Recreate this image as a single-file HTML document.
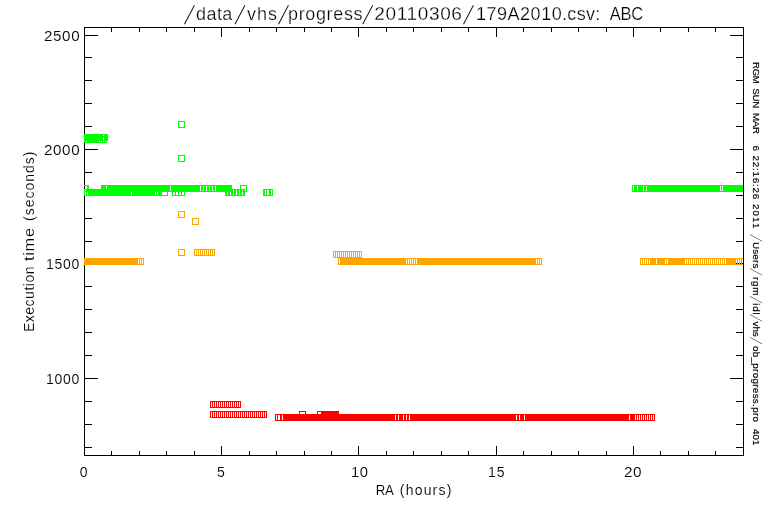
<!DOCTYPE html>
<html><head><meta charset="utf-8"><title>ob_progress</title>
<style>
html,body{margin:0;padding:0;background:#fff;overflow:hidden}
svg{display:block}
text{font-family:'Liberation Sans',sans-serif;fill:#000;white-space:pre;stroke:#fff;paint-order:fill stroke;stroke-width:.1px}
.t{stroke-width:.25px}
.r{stroke:#000;stroke-width:.2px}
.s{stroke-width:0}
</style></head>
<body>
<svg width="768" height="512" viewBox="0 0 768 512">
<rect width="768" height="512" fill="#fff"/>
<g shape-rendering="crispEdges">
<rect x="84" y="27" width="660" height="1" fill="#000"/>
<rect x="84" y="455" width="660" height="1" fill="#000"/>
<rect x="84" y="27" width="1" height="429" fill="#000"/>
<rect x="743" y="27" width="1" height="429" fill="#000"/>
<rect x="111" y="451" width="1" height="4" fill="#000"/>
<rect x="111" y="28" width="1" height="4" fill="#000"/>
<rect x="139" y="451" width="1" height="4" fill="#000"/>
<rect x="139" y="28" width="1" height="4" fill="#000"/>
<rect x="166" y="451" width="1" height="4" fill="#000"/>
<rect x="166" y="28" width="1" height="4" fill="#000"/>
<rect x="194" y="451" width="1" height="4" fill="#000"/>
<rect x="194" y="28" width="1" height="4" fill="#000"/>
<rect x="221" y="446" width="1" height="9" fill="#000"/>
<rect x="221" y="28" width="1" height="9" fill="#000"/>
<rect x="249" y="451" width="1" height="4" fill="#000"/>
<rect x="249" y="28" width="1" height="4" fill="#000"/>
<rect x="276" y="451" width="1" height="4" fill="#000"/>
<rect x="276" y="28" width="1" height="4" fill="#000"/>
<rect x="304" y="451" width="1" height="4" fill="#000"/>
<rect x="304" y="28" width="1" height="4" fill="#000"/>
<rect x="331" y="451" width="1" height="4" fill="#000"/>
<rect x="331" y="28" width="1" height="4" fill="#000"/>
<rect x="358" y="446" width="1" height="9" fill="#000"/>
<rect x="358" y="28" width="1" height="9" fill="#000"/>
<rect x="386" y="451" width="1" height="4" fill="#000"/>
<rect x="386" y="28" width="1" height="4" fill="#000"/>
<rect x="413" y="451" width="1" height="4" fill="#000"/>
<rect x="413" y="28" width="1" height="4" fill="#000"/>
<rect x="441" y="451" width="1" height="4" fill="#000"/>
<rect x="441" y="28" width="1" height="4" fill="#000"/>
<rect x="468" y="451" width="1" height="4" fill="#000"/>
<rect x="468" y="28" width="1" height="4" fill="#000"/>
<rect x="496" y="446" width="1" height="9" fill="#000"/>
<rect x="496" y="28" width="1" height="9" fill="#000"/>
<rect x="523" y="451" width="1" height="4" fill="#000"/>
<rect x="523" y="28" width="1" height="4" fill="#000"/>
<rect x="551" y="451" width="1" height="4" fill="#000"/>
<rect x="551" y="28" width="1" height="4" fill="#000"/>
<rect x="578" y="451" width="1" height="4" fill="#000"/>
<rect x="578" y="28" width="1" height="4" fill="#000"/>
<rect x="606" y="451" width="1" height="4" fill="#000"/>
<rect x="606" y="28" width="1" height="4" fill="#000"/>
<rect x="633" y="446" width="1" height="9" fill="#000"/>
<rect x="633" y="28" width="1" height="9" fill="#000"/>
<rect x="660" y="451" width="1" height="4" fill="#000"/>
<rect x="660" y="28" width="1" height="4" fill="#000"/>
<rect x="688" y="451" width="1" height="4" fill="#000"/>
<rect x="688" y="28" width="1" height="4" fill="#000"/>
<rect x="715" y="451" width="1" height="4" fill="#000"/>
<rect x="715" y="28" width="1" height="4" fill="#000"/>
<rect x="85" y="447" width="7" height="1" fill="#000"/>
<rect x="736" y="447" width="7" height="1" fill="#000"/>
<rect x="85" y="424" width="7" height="1" fill="#000"/>
<rect x="736" y="424" width="7" height="1" fill="#000"/>
<rect x="85" y="401" width="7" height="1" fill="#000"/>
<rect x="736" y="401" width="7" height="1" fill="#000"/>
<rect x="85" y="378" width="13" height="1" fill="#000"/>
<rect x="730" y="378" width="13" height="1" fill="#000"/>
<rect x="85" y="355" width="7" height="1" fill="#000"/>
<rect x="736" y="355" width="7" height="1" fill="#000"/>
<rect x="85" y="332" width="7" height="1" fill="#000"/>
<rect x="736" y="332" width="7" height="1" fill="#000"/>
<rect x="85" y="309" width="7" height="1" fill="#000"/>
<rect x="736" y="309" width="7" height="1" fill="#000"/>
<rect x="85" y="286" width="7" height="1" fill="#000"/>
<rect x="736" y="286" width="7" height="1" fill="#000"/>
<rect x="85" y="263" width="13" height="1" fill="#000"/>
<rect x="730" y="263" width="13" height="1" fill="#000"/>
<rect x="85" y="241" width="7" height="1" fill="#000"/>
<rect x="736" y="241" width="7" height="1" fill="#000"/>
<rect x="85" y="218" width="7" height="1" fill="#000"/>
<rect x="736" y="218" width="7" height="1" fill="#000"/>
<rect x="85" y="195" width="7" height="1" fill="#000"/>
<rect x="736" y="195" width="7" height="1" fill="#000"/>
<rect x="85" y="172" width="7" height="1" fill="#000"/>
<rect x="736" y="172" width="7" height="1" fill="#000"/>
<rect x="85" y="149" width="13" height="1" fill="#000"/>
<rect x="730" y="149" width="13" height="1" fill="#000"/>
<rect x="85" y="126" width="7" height="1" fill="#000"/>
<rect x="736" y="126" width="7" height="1" fill="#000"/>
<rect x="85" y="103" width="7" height="1" fill="#000"/>
<rect x="736" y="103" width="7" height="1" fill="#000"/>
<rect x="85" y="80" width="7" height="1" fill="#000"/>
<rect x="736" y="80" width="7" height="1" fill="#000"/>
<rect x="85" y="57" width="7" height="1" fill="#000"/>
<rect x="736" y="57" width="7" height="1" fill="#000"/>
<rect x="85" y="35" width="13" height="1" fill="#000"/>
<rect x="730" y="35" width="13" height="1" fill="#000"/>
<rect x="84" y="134" width="24" height="7" fill="#00ff00"/>
<rect x="84" y="141" width="23" height="2" fill="#00ff00"/>
<rect x="86" y="141" width="1" height="1" fill="#fff"/>
<rect x="99" y="141" width="1" height="1" fill="#fff"/>
<rect x="101" y="141" width="1" height="1" fill="#fff"/>
<rect x="103" y="141" width="1" height="1" fill="#fff"/>
<rect x="105" y="141" width="1" height="1" fill="#fff"/>
<rect x="103" y="135" width="1" height="1" fill="#fff"/>
<rect x="103" y="137" width="1" height="3" fill="#fff"/>
<path d="M178.5 121.5h6v6h-6z" fill="none" stroke="#00ff00"/>
<path d="M178.5 155.5h6v6h-6z" fill="none" stroke="#00ff00"/>
<rect x="84" y="185" width="5" height="1" fill="#00ff00"/>
<rect x="87" y="185" width="2" height="7" fill="#00ff00"/>
<rect x="101" y="185" width="131" height="7" fill="#00ff00"/>
<rect x="106" y="186" width="1" height="3" fill="#fff"/>
<rect x="170" y="186" width="1" height="5" fill="#fff"/>
<rect x="200" y="186" width="1" height="5" fill="#fff"/>
<rect x="203" y="186" width="1" height="5" fill="#fff"/>
<rect x="206" y="186" width="1" height="5" fill="#fff"/>
<rect x="209" y="186" width="1" height="5" fill="#fff"/>
<rect x="212" y="186" width="1" height="5" fill="#fff"/>
<rect x="215" y="186" width="1" height="5" fill="#fff"/>
<rect x="84" y="189" width="84" height="7" fill="#00ff00"/>
<rect x="85" y="190" width="1" height="1" fill="#fff"/>
<rect x="85" y="192" width="1" height="3" fill="#fff"/>
<rect x="87" y="192" width="1" height="3" fill="#fff"/>
<rect x="131" y="192" width="1" height="3" fill="#fff"/>
<rect x="155" y="192" width="1" height="3" fill="#fff"/>
<rect x="157" y="192" width="1" height="3" fill="#fff"/>
<rect x="162" y="192" width="5" height="3" fill="#fff"/>
<rect x="172" y="189" width="13" height="7" fill="#00ff00"/>
<rect x="173" y="192" width="2" height="3" fill="#fff"/>
<rect x="176" y="192" width="2" height="3" fill="#fff"/>
<rect x="179" y="192" width="2" height="3" fill="#fff"/>
<rect x="182" y="192" width="2" height="3" fill="#fff"/>
<rect x="225" y="189" width="20" height="7" fill="#00ff00"/>
<rect x="227" y="192" width="1" height="3" fill="#fff"/>
<rect x="230" y="192" width="1" height="3" fill="#fff"/>
<rect x="233" y="190" width="1" height="5" fill="#fff"/>
<rect x="236" y="190" width="1" height="5" fill="#fff"/>
<rect x="239" y="190" width="1" height="5" fill="#fff"/>
<rect x="242" y="190" width="1" height="1" fill="#fff"/>
<rect x="242" y="192" width="1" height="3" fill="#fff"/>
<path d="M240.5 185.5h6v6h-6z" fill="none" stroke="#00ff00"/>
<rect x="263" y="189" width="10" height="7" fill="#00ff00"/>
<rect x="265" y="190" width="1" height="5" fill="#fff"/>
<rect x="267" y="190" width="2" height="5" fill="#fff"/>
<rect x="271" y="190" width="1" height="5" fill="#fff"/>
<rect x="632" y="185" width="111" height="7" fill="#00ff00"/>
<rect x="633" y="186" width="1" height="5" fill="#fff"/>
<rect x="637" y="186" width="1" height="5" fill="#fff"/>
<rect x="643" y="186" width="1" height="5" fill="#fff"/>
<rect x="646" y="186" width="1" height="5" fill="#fff"/>
<rect x="720" y="186" width="1" height="5" fill="#fff"/>
<rect x="722" y="186" width="1" height="5" fill="#fff"/>
<path d="M178.5 211.5h6v6h-6z" fill="none" stroke="#ffa500"/>
<path d="M192.5 218.5h6v6h-6z" fill="none" stroke="#ffa500"/>
<path d="M178.5 249.5h6v6h-6z" fill="none" stroke="#ffa500"/>
<rect x="194" y="249" width="21" height="7" fill="#ffa500"/>
<rect x="195" y="250" width="1" height="5" fill="#fff"/>
<rect x="197" y="250" width="1" height="5" fill="#fff"/>
<rect x="199" y="250" width="1" height="5" fill="#fff"/>
<rect x="201" y="250" width="1" height="5" fill="#fff"/>
<rect x="203" y="250" width="1" height="5" fill="#fff"/>
<rect x="205" y="250" width="1" height="5" fill="#fff"/>
<rect x="207" y="250" width="1" height="5" fill="#fff"/>
<rect x="209" y="250" width="1" height="5" fill="#fff"/>
<rect x="211" y="250" width="1" height="5" fill="#fff"/>
<rect x="213" y="250" width="1" height="5" fill="#fff"/>
<rect x="84" y="258" width="60" height="7" fill="#ffa500"/>
<rect x="138" y="259" width="1" height="5" fill="#fff"/>
<rect x="140" y="259" width="1" height="5" fill="#fff"/>
<rect x="142" y="259" width="1" height="5" fill="#fff"/>
<rect x="333" y="251" width="29" height="7" fill="#ffa500"/>
<rect x="334" y="252" width="1" height="5" fill="#fff"/>
<rect x="336" y="252" width="1" height="5" fill="#fff"/>
<rect x="338" y="252" width="1" height="5" fill="#fff"/>
<rect x="340" y="252" width="1" height="5" fill="#fff"/>
<rect x="342" y="252" width="1" height="5" fill="#fff"/>
<rect x="344" y="252" width="1" height="5" fill="#fff"/>
<rect x="346" y="252" width="1" height="5" fill="#fff"/>
<rect x="348" y="252" width="1" height="5" fill="#fff"/>
<rect x="350" y="252" width="1" height="5" fill="#fff"/>
<rect x="352" y="252" width="1" height="5" fill="#fff"/>
<rect x="354" y="252" width="1" height="5" fill="#fff"/>
<rect x="356" y="252" width="1" height="5" fill="#fff"/>
<rect x="358" y="252" width="1" height="5" fill="#fff"/>
<rect x="360" y="252" width="1" height="5" fill="#fff"/>
<rect x="338" y="258" width="204" height="7" fill="#ffa500"/>
<rect x="339" y="259" width="1" height="5" fill="#fff"/>
<rect x="406" y="259" width="1" height="5" fill="#fff"/>
<rect x="408" y="259" width="1" height="5" fill="#fff"/>
<rect x="410" y="259" width="1" height="5" fill="#fff"/>
<rect x="412" y="259" width="1" height="5" fill="#fff"/>
<rect x="414" y="259" width="1" height="5" fill="#fff"/>
<rect x="416" y="259" width="1" height="5" fill="#fff"/>
<rect x="536" y="259" width="1" height="5" fill="#fff"/>
<rect x="538" y="259" width="1" height="5" fill="#fff"/>
<rect x="540" y="259" width="1" height="5" fill="#fff"/>
<rect x="640" y="258" width="103" height="7" fill="#ffa500"/>
<rect x="641" y="259" width="1" height="5" fill="#fff"/>
<rect x="643" y="259" width="1" height="5" fill="#fff"/>
<rect x="645" y="259" width="1" height="5" fill="#fff"/>
<rect x="647" y="259" width="1" height="5" fill="#fff"/>
<rect x="649" y="259" width="1" height="5" fill="#fff"/>
<rect x="656" y="259" width="1" height="5" fill="#fff"/>
<rect x="665" y="259" width="1" height="5" fill="#fff"/>
<rect x="667" y="259" width="1" height="5" fill="#fff"/>
<rect x="685" y="259" width="1" height="5" fill="#fff"/>
<rect x="687" y="259" width="1" height="5" fill="#fff"/>
<rect x="689" y="259" width="1" height="5" fill="#fff"/>
<rect x="691" y="259" width="1" height="5" fill="#fff"/>
<rect x="693" y="259" width="1" height="5" fill="#fff"/>
<rect x="695" y="259" width="1" height="5" fill="#fff"/>
<rect x="697" y="259" width="1" height="5" fill="#fff"/>
<rect x="699" y="259" width="1" height="5" fill="#fff"/>
<rect x="701" y="259" width="1" height="5" fill="#fff"/>
<rect x="703" y="259" width="1" height="5" fill="#fff"/>
<rect x="705" y="259" width="1" height="5" fill="#fff"/>
<rect x="707" y="259" width="1" height="5" fill="#fff"/>
<rect x="709" y="259" width="1" height="5" fill="#fff"/>
<rect x="711" y="259" width="1" height="5" fill="#fff"/>
<rect x="713" y="259" width="1" height="5" fill="#fff"/>
<rect x="715" y="259" width="1" height="5" fill="#fff"/>
<rect x="717" y="259" width="1" height="5" fill="#fff"/>
<rect x="719" y="259" width="1" height="5" fill="#fff"/>
<rect x="721" y="259" width="1" height="5" fill="#fff"/>
<rect x="723" y="259" width="1" height="5" fill="#fff"/>
<rect x="725" y="259" width="1" height="5" fill="#fff"/>
<rect x="736" y="259" width="1" height="5" fill="#fff"/>
<rect x="738" y="259" width="1" height="5" fill="#fff"/>
<rect x="740" y="259" width="1" height="5" fill="#fff"/>
<rect x="742" y="259" width="1" height="5" fill="#fff"/>
<rect x="736" y="263" width="1" height="1" fill="#000"/>
<rect x="738" y="263" width="1" height="1" fill="#000"/>
<rect x="740" y="263" width="1" height="1" fill="#000"/>
<rect x="742" y="263" width="1" height="1" fill="#000"/>
<rect x="210" y="401" width="31" height="7" fill="#ff0000"/>
<rect x="211" y="402" width="1" height="5" fill="#fff"/>
<rect x="213" y="402" width="1" height="5" fill="#fff"/>
<rect x="215" y="402" width="1" height="5" fill="#fff"/>
<rect x="217" y="402" width="1" height="5" fill="#fff"/>
<rect x="219" y="402" width="1" height="5" fill="#fff"/>
<rect x="221" y="402" width="1" height="5" fill="#fff"/>
<rect x="223" y="402" width="1" height="5" fill="#fff"/>
<rect x="225" y="402" width="1" height="5" fill="#fff"/>
<rect x="227" y="402" width="1" height="5" fill="#fff"/>
<rect x="229" y="402" width="1" height="5" fill="#fff"/>
<rect x="231" y="402" width="1" height="5" fill="#fff"/>
<rect x="233" y="402" width="1" height="5" fill="#fff"/>
<rect x="235" y="402" width="1" height="5" fill="#fff"/>
<rect x="237" y="402" width="1" height="5" fill="#fff"/>
<rect x="239" y="402" width="1" height="5" fill="#fff"/>
<rect x="210" y="411" width="57" height="7" fill="#ff0000"/>
<rect x="211" y="412" width="1" height="5" fill="#fff"/>
<rect x="213" y="412" width="1" height="5" fill="#fff"/>
<rect x="215" y="412" width="1" height="5" fill="#fff"/>
<rect x="217" y="412" width="1" height="5" fill="#fff"/>
<rect x="219" y="412" width="1" height="5" fill="#fff"/>
<rect x="221" y="412" width="1" height="5" fill="#fff"/>
<rect x="223" y="412" width="1" height="5" fill="#fff"/>
<rect x="225" y="412" width="1" height="5" fill="#fff"/>
<rect x="227" y="412" width="1" height="5" fill="#fff"/>
<rect x="229" y="412" width="1" height="5" fill="#fff"/>
<rect x="231" y="412" width="1" height="5" fill="#fff"/>
<rect x="233" y="412" width="1" height="5" fill="#fff"/>
<rect x="235" y="412" width="1" height="5" fill="#fff"/>
<rect x="237" y="412" width="1" height="5" fill="#fff"/>
<rect x="239" y="412" width="1" height="5" fill="#fff"/>
<rect x="241" y="412" width="1" height="5" fill="#fff"/>
<rect x="243" y="412" width="1" height="5" fill="#fff"/>
<rect x="245" y="412" width="1" height="5" fill="#fff"/>
<rect x="247" y="412" width="1" height="5" fill="#fff"/>
<rect x="249" y="412" width="1" height="5" fill="#fff"/>
<rect x="251" y="412" width="1" height="5" fill="#fff"/>
<rect x="253" y="412" width="1" height="5" fill="#fff"/>
<rect x="255" y="412" width="1" height="5" fill="#fff"/>
<rect x="257" y="412" width="1" height="5" fill="#fff"/>
<rect x="259" y="412" width="1" height="5" fill="#fff"/>
<rect x="261" y="412" width="1" height="5" fill="#fff"/>
<rect x="263" y="412" width="1" height="5" fill="#fff"/>
<rect x="265" y="412" width="1" height="5" fill="#fff"/>
<path d="M299.5 411.5h6v6h-6z" fill="none" stroke="#ff0000"/>
<rect x="317" y="411" width="22" height="4" fill="#ff0000"/>
<rect x="318" y="412" width="3" height="2" fill="#fff"/>
<rect x="275" y="414" width="380" height="7" fill="#ff0000"/>
<rect x="276" y="415" width="1" height="5" fill="#fff"/>
<rect x="278" y="415" width="2" height="5" fill="#fff"/>
<rect x="282" y="415" width="1" height="5" fill="#fff"/>
<rect x="395" y="415" width="1" height="5" fill="#fff"/>
<rect x="398" y="415" width="1" height="5" fill="#fff"/>
<rect x="403" y="415" width="1" height="5" fill="#fff"/>
<rect x="406" y="415" width="1" height="5" fill="#fff"/>
<rect x="409" y="415" width="1" height="5" fill="#fff"/>
<rect x="516" y="415" width="1" height="5" fill="#fff"/>
<rect x="519" y="415" width="1" height="5" fill="#fff"/>
<rect x="524" y="415" width="1" height="5" fill="#fff"/>
<rect x="629" y="415" width="1" height="5" fill="#fff"/>
<rect x="635" y="415" width="1" height="5" fill="#fff"/>
<rect x="637" y="415" width="1" height="5" fill="#fff"/>
<rect x="639" y="415" width="1" height="5" fill="#fff"/>
<rect x="641" y="415" width="1" height="5" fill="#fff"/>
<rect x="643" y="415" width="1" height="5" fill="#fff"/>
<rect x="645" y="415" width="1" height="5" fill="#fff"/>
<rect x="647" y="415" width="1" height="5" fill="#fff"/>
<rect x="649" y="415" width="1" height="5" fill="#fff"/>
<rect x="651" y="415" width="1" height="5" fill="#fff"/>
<rect x="653" y="415" width="1" height="5" fill="#fff"/>
</g>
<g style="opacity:.999">
<text class="t" transform="translate(196.0 20)" font-size="18" letter-spacing="0.433">data</text>
<text class="t" transform="translate(247.0 20)" font-size="18" letter-spacing="1.0">vhs</text>
<text class="t" transform="translate(288.0 20)" font-size="18" letter-spacing="0.643">progress</text>
<text class="t" transform="translate(374.24 20) scale(1.0579 1)" font-size="18" letter-spacing="0.6">20110306</text>
<text class="t" transform="translate(476.0 20)" font-size="18" letter-spacing="0.514">179A2010</text>
<text class="t" transform="translate(562.0 20)" font-size="18" letter-spacing="0.325">.csv:</text>
<text class="t" transform="translate(609.7 20) scale(0.9209 1)" font-size="18" letter-spacing="-0.3">ABC</text>
<text class="s" transform=" translate(184 24) scale(1 1.85) skewX(-35)" font-size="14">/</text>
<text class="s" transform=" translate(234.5 24) scale(1 1.85) skewX(-35)" font-size="14">/</text>
<text class="s" transform=" translate(278 24) scale(1 1.85) skewX(-35)" font-size="14">/</text>
<text class="s" transform=" translate(362.3 24) scale(1 1.85) skewX(-35)" font-size="14">/</text>
<text class="s" transform=" translate(463 24) scale(1 1.85) skewX(-35)" font-size="14">/</text>
<text transform="translate(79.7 477)" font-size="14">0</text>
<text transform="translate(217.0 477)" font-size="14">5</text>
<text transform="translate(350.95 477) scale(1.0548 1)" font-size="14" letter-spacing="0.6">10</text>
<text transform="translate(488.0 477)" font-size="14" letter-spacing="1.0">15</text>
<text transform="translate(623.9 477) scale(1.0959 1)" font-size="14" letter-spacing="0.6">20</text>
<text transform="translate(43.92 40.5) scale(1.0849 1)" font-size="14" letter-spacing="0.6">2500</text>
<text transform="translate(43.92 154.94) scale(1.0849 1)" font-size="14" letter-spacing="0.6">2000</text>
<text transform="translate(46.0 269.39)" font-size="14" letter-spacing="0.733">1500</text>
<text transform="translate(46.0 383.84)" font-size="14" letter-spacing="0.733">1000</text>
<text transform="translate(375.66 495) scale(0.9435 1)" font-size="14" letter-spacing="-0.3">RA</text>
<text transform="translate(399.8 495)" font-size="14" letter-spacing="1.2">(hours)</text>
<text transform="translate(34 331) rotate(-90) translate(-1.0 0)" font-size="14" letter-spacing="0.5">Execution</text>
<text transform="translate(34 331) rotate(-90) translate(70.0 0) scale(1.1691 1)" font-size="14" letter-spacing="0.6">time</text>
<text transform="translate(34 331) rotate(-90) translate(110.0 0)" font-size="14" letter-spacing="1.0">(seconds)</text>
<text class="r" transform="translate(753 0) rotate(90) translate(62.02 0) scale(0.9804 1)" font-size="9.8" letter-spacing="-0.3">RGM</text>
<text class="r" transform="translate(753 0) rotate(90) translate(88.2 0)" font-size="9.8" letter-spacing="-0.25">SUN</text>
<text class="r" transform="translate(753 0) rotate(90) translate(112.91 0) scale(0.9948 1)" font-size="9.8" letter-spacing="-0.3">MAR</text>
<text class="r" transform="translate(753 0) rotate(90) translate(145.4 0)" font-size="9.8">6</text>
<text class="r" transform="translate(753 0) rotate(90) translate(155.4 0)" font-size="9.8" letter-spacing="0.8">22:16:26</text>
<text class="r" transform="translate(753 0) rotate(90) translate(204.0 0)" font-size="9.8" letter-spacing="1.1">2011</text>
<text class="r" transform="translate(753 0) rotate(90) translate(242.0 0)" font-size="9.8" letter-spacing="0.175">Users</text>
<text class="r" transform="translate(753 0) rotate(90) translate(277.0 0)" font-size="9.8" letter-spacing="0.8">rgm</text>
<text class="r" transform="translate(753 0) rotate(90) translate(303.3 0)" font-size="9.8" letter-spacing="0.75">idl</text>
<text class="r" transform="translate(753 0) rotate(90) translate(321.5 0)" font-size="9.8">vhs</text>
<text class="r" transform="translate(753 0) rotate(90) translate(346.0 0)" font-size="9.8" letter-spacing="0.329">ob_progress.pro</text>
<text class="r" transform="translate(753 0) rotate(90) translate(429.0 0)" font-size="9.8">401</text>
<text class="s" transform="translate(753 0) rotate(90) translate(234.3 3) scale(1 2.1) skewX(-41)" font-size="8">/</text>
<text class="s" transform="translate(753 0) rotate(90) translate(268.2 3) scale(1 2.1) skewX(-41)" font-size="8">/</text>
<text class="s" transform="translate(753 0) rotate(90) translate(296.1 3) scale(1 2.1) skewX(-41)" font-size="8">/</text>
<text class="s" transform="translate(753 0) rotate(90) translate(314.3 3) scale(1 2.1) skewX(-41)" font-size="8">/</text>
<text class="s" transform="translate(753 0) rotate(90) translate(337.1 3) scale(1 2.1) skewX(-41)" font-size="8">/</text>
</g>
</svg>
</body></html>
